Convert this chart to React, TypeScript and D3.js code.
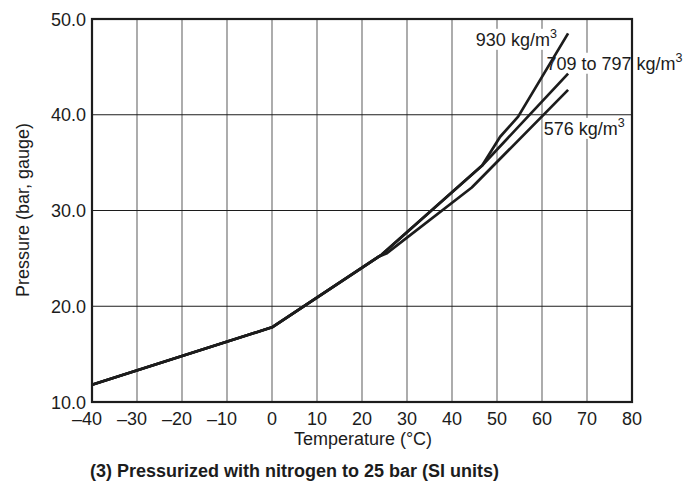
import * as d3 from "d3";
import React from "react";

type Pt = { t: number; p: number };

// readings (temperature °C, pressure bar gauge)
const xTicks = [-40, -30, -20, -10, 0, 10, 20, 30, 40, 50, 60, 70, 80];
const yTicks = [10, 20, 30, 40, 50];

const curve930: Pt[] = [
  { t: -40, p: 11.8 },
  { t: 0, p: 17.8 },
  { t: 24.4, p: 25.4 },
  { t: 46.7, p: 34.7 },
  { t: 50.7, p: 37.7 },
  { t: 54.7, p: 39.8 },
  { t: 65.8, p: 48.5 },
];
const curve709: Pt[] = [
  { t: -40, p: 11.8 },
  { t: 0, p: 17.8 },
  { t: 24.4, p: 25.4 },
  { t: 46.7, p: 34.7 },
  { t: 65.8, p: 44.3 },
];
const curve576: Pt[] = [
  { t: -40, p: 11.8 },
  { t: 0, p: 17.8 },
  { t: 23.8, p: 25.2 },
  { t: 25.4, p: 25.5 },
  { t: 44.4, p: 32.4 },
  { t: 65.8, p: 42.6 },
];

const series = [
  { name: "930", pts: curve930, label: "930 kg/m", at: { t: 45.3, p: 47.2 }, w: 84 },
  { name: "709", pts: curve709, label: "709 to 797 kg/m", at: { t: 61.0, p: 44.7 }, w: 135 },
  { name: "576", pts: curve576, label: "576 kg/m", at: { t: 60.4, p: 37.9 }, w: 84 },
];

const W = 687;
const H = 485;
const margin = { top: 19, right: 55, bottom: 83, left: 92 };
const font = "'Liberation Sans', Arial, Helvetica, sans-serif";
const ink = "#1c1c1c";

export default function App() {
  const innerW = W - margin.left - margin.right;
  const innerH = H - margin.top - margin.bottom;

  const x = d3.scaleLinear().domain([-40, 80]).range([0, innerW]);
  const y = d3.scaleLinear().domain([10, 50]).range([innerH, 0]);

  const line = d3
    .line<Pt>()
    .x((d) => x(d.t))
    .y((d) => y(d.p));

  const fmtX = (v: number) => (v < 0 ? `\u2013${Math.abs(v)}` : `${v}`);

  return (
    <svg
      width={W}
      height={H}
      style={{ position: "absolute", left: 0, top: 0, background: "#fff" }}
      fontFamily={font}
    >
      <g transform={`translate(${margin.left},${margin.top})`}>
        {/* vertical grid - grey */}
        {xTicks.slice(1, -1).map((t) => (
          <line key={"vx" + t} x1={x(t)} x2={x(t)} y1={0} y2={innerH} stroke="#808080" strokeWidth={1.3} />
        ))}
        {/* horizontal grid - black */}
        {yTicks.slice(1, -1).map((v) => (
          <line key={"hy" + v} x1={0} x2={innerW} y1={y(v)} y2={y(v)} stroke={ink} strokeWidth={1.2} />
        ))}

        {/* white patches behind the curve labels */}
        {series.map((s) => (
          <rect key={"b" + s.name} x={x(s.at.t) - 1} y={y(s.at.p) - 17} width={s.w} height={21} fill="#fff" />
        ))}

        {series.map((s) => (
          <path
            key={s.name}
            d={line(s.pts) ?? ""}
            fill="none"
            stroke={ink}
            strokeWidth={2.7}
            strokeLinejoin="round"
          />
        ))}

        {series.map((s) => (
          <text key={"l" + s.name} x={x(s.at.t)} y={y(s.at.p)} fontSize={18} fill={ink}>
            {s.label}
            <tspan dy={-8} fontSize={12.5}>3</tspan>
          </text>
        ))}

        <rect x={0} y={0} width={innerW} height={innerH} fill="none" stroke={ink} strokeWidth={2.2} />

        {/* y ticks */}
        {yTicks.map((v) => (
          <text key={"yt" + v} x={-6} y={y(v) + 6.5} textAnchor="end" fontSize={18} fill={ink}>
            {v.toFixed(1)}
          </text>
        ))}
        {/* x ticks: digits centred on the tick, minus sign hangs left */}
        {xTicks.map((t) => (
          <text
            key={"xt" + t}
            x={x(t)}
            dx={t < 0 ? -5 : 0}
            y={innerH + 23}
            textAnchor="middle"
            fontSize={18}
            fill={ink}
          >
            {fmtX(t)}
          </text>
        ))}

        <text x={363 - margin.left} y={innerH + 43} textAnchor="middle" fontSize={18} fill={ink}>
          Temperature (°C)
        </text>
        <text
          transform={`translate(${29 - margin.left},${210 - margin.top}) rotate(-90)`}
          textAnchor="middle"
          fontSize={18}
          fill={ink}
        >
          Pressure (bar, gauge)
        </text>
      </g>
      <text x={90} y={477} fontSize={18} fontWeight="bold" fill={ink}>
        (3) Pressurized with nitrogen to 25 bar (SI units)
      </text>
    </svg>
  );
}
